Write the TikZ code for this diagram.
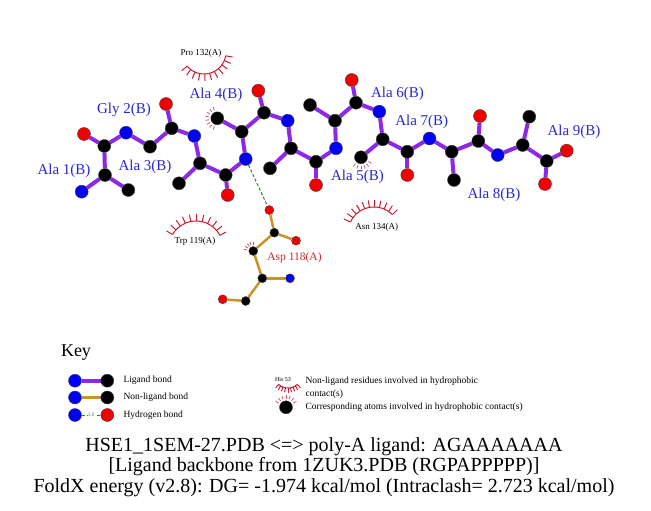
\documentclass[tikz,border=0pt]{standalone}
\usepackage{fontspec}
\setmainfont{Liberation Serif}
\usetikzlibrary{backgrounds,calc}

\definecolor{ligbond}{RGB}{140,40,230}
\definecolor{nonlig}{RGB}{205,145,40}
\definecolor{hbcol}{RGB}{30,140,40}
\definecolor{hydcol}{RGB}{200,30,50}
\definecolor{rescol}{RGB}{40,40,210}
\definecolor{asplab}{RGB}{210,40,40}
\definecolor{ncol}{RGB}{0,0,245}
\definecolor{ocol}{RGB}{240,0,0}

\tikzset{
  atom/.style={circle, inner sep=0pt, minimum size=13pt, draw=black!75, line width=0.4pt},
  catom/.style={atom, fill=black},
  natom/.style={atom, fill=ncol},
  oatom/.style={atom, fill=ocol},
  scatom/.style={catom, minimum size=9pt},
  snatom/.style={natom, minimum size=9pt},
  soatom/.style={oatom, minimum size=9pt},
  lbond/.style={ligbond, line width=4pt},
  nbond/.style={nonlig, line width=2.5pt},
  hbond/.style={hbcol, line width=1pt, dash pattern=on 3pt off 2pt},
  hydline/.style={hydcol, line width=1pt},
  contact/.style={hydcol!75, line width=0.8pt},
  reslab/.style={text=rescol, font=\fontsize{15}{17}\selectfont},
  hyplab/.style={font=\fontsize{9}{10}\selectfont},
  keytext/.style={anchor=west, font=\fontsize{9.5}{12.6}\selectfont, align=left},
}

% hydrophobic residue: centre, radius, first angle, last angle, spokes-1, spoke length
\newcommand{\hphob}[6]{%
  \begin{scope}[shift={(#1)}]
    \draw[hydline] plot[domain=#3:#4, samples=25] (\x:#2);
    \foreach \k in {0,...,#5}{
      \pgfmathsetmacro{\ang}{#3+\k*(#4-#3)/#5}
      \draw[hydline] (\ang:#2) -- (\ang:{#2+#6});
    }
  \end{scope}}

\begin{document}
\begin{tikzpicture}[x=1pt, y=-1pt]
  \useasboundingbox (0,0) rectangle (651,511);

  % ligand atoms
  \node[natom] (n1) at (81.7,191.7) {};
  \node[catom] (ca1) at (105,175) {};
  \node[catom] (cb1) at (128.3,190) {};
  \node[catom] (c1) at (104.3,146) {};
  \node[oatom] (o1) at (84,134) {};
  \node[natom] (n2) at (126,132.7) {};
  \node[catom] (ca2) at (150,146.7) {};
  \node[catom] (c2) at (171.7,128.3) {};
  \node[oatom] (o2) at (166,104) {};
  \node[natom] (n3) at (194.3,136) {};
  \node[catom] (ca3) at (200,163.3) {};
  \node[catom] (cb3) at (179,183.3) {};
  \node[catom] (c3) at (225.7,175) {};
  \node[oatom] (o3) at (227.7,195) {};
  \node[natom] (n4) at (245.7,159) {};
  \node[catom] (ca4) at (241.7,131.7) {};
  \node[catom] (cb4) at (217.3,118.3) {};
  \node[catom] (c4) at (264,112.7) {};
  \node[oatom] (o4) at (258.3,90.7) {};
  \node[natom] (n5) at (287.7,120.7) {};
  \node[catom] (ca5) at (291,148.3) {};
  \node[catom] (cb5) at (270,168.3) {};
  \node[catom] (c5) at (316,161.7) {};
  \node[oatom] (o5) at (316,185) {};
  \node[natom] (n6) at (336,148.3) {};
  \node[catom] (ca6) at (335,120.7) {};
  \node[catom] (cb6) at (310,105) {};
  \node[catom] (c6) at (356,102.7) {};
  \node[oatom] (o6) at (351.7,80) {};
  \node[natom] (n7) at (379.3,111.7) {};
  \node[catom] (ca7) at (382.7,139.3) {};
  \node[catom] (cb7) at (361,157.3) {};
  \node[catom] (c7) at (407.3,151.7) {};
  \node[oatom] (o7) at (407.3,175) {};
  \node[natom] (n8) at (429.5,138.5) {};
  \node[catom] (ca8) at (451.7,151.7) {};
  \node[catom] (cb8) at (454,180) {};
  \node[catom] (c8) at (478.3,141) {};
  \node[oatom] (o8) at (480,116) {};
  \node[natom] (n9) at (497.7,155) {};
  \node[catom] (ca9) at (522.7,145) {};
  \node[catom] (cb9) at (529.3,116.7) {};
  \node[catom] (c9) at (546.7,161) {};
  \node[oatom] (o9) at (566.7,150.7) {};
  \node[oatom] (oxt) at (545,184) {};

  % Asp 118
  \node[soatom] (aod1) at (269.3,210) {};
  \node[scatom] (acg) at (274.3,232.7) {};
  \node[soatom] (aod2) at (296,240.7) {};
  \node[scatom] (acb) at (253.3,251) {};
  \node[scatom] (aca) at (262.3,278.3) {};
  \node[snatom] (an) at (290,278.3) {};
  \node[scatom] (ac) at (245.7,301) {};
  \node[soatom] (ao) at (222.7,299.3) {};

  \begin{pgfonlayer}{background}
    \foreach \a/\b in {n1/ca1, ca1/cb1, ca1/c1, c1/o1, c1/n2, n2/ca2, ca2/c2, c2/o2, c2/n3,
                       n3/ca3, ca3/cb3, ca3/c3, c3/o3, c3/n4, n4/ca4, ca4/cb4, ca4/c4, c4/o4, c4/n5,
                       n5/ca5, ca5/cb5, ca5/c5, c5/o5, c5/n6, n6/ca6, ca6/cb6, ca6/c6, c6/o6, c6/n7,
                       n7/ca7, ca7/cb7, ca7/c7, c7/o7, c7/n8, n8/ca8, ca8/cb8, ca8/c8, c8/o8, c8/n9,
                       n9/ca9, ca9/cb9, ca9/c9, c9/o9, c9/oxt}
      \draw[lbond] (\a) -- (\b);
    \foreach \a/\b in {aod1/acg, acg/aod2, acg/acb, acb/aca, aca/an, aca/ac, ac/ao}
      \draw[nbond] (\a) -- (\b);
  \end{pgfonlayer}

  % hydrogen bond
  \draw[hbond] (n4) -- (aod1);

  % hydrophobic contacts
  \hphob{204,52}{22}{10}{140}{10}{7}
  \hphob{196,248}{27}{-150}{-28}{10}{7}
  \hphob{374,233}{26}{-155}{-45}{10}{7}
  \foreach \a in {110,130,...,250}
    \draw[contact] ($(cb4)+(\a:8.5)$) -- ($(cb4)+(\a:12)$);
  \foreach \a in {30,50,...,130}
    \draw[contact] ($(cb7)+(\a:8.5)$) -- ($(cb7)+(\a:12)$);
  \foreach \a in {-170,-150,...,-90}
    \draw[contact] ($(acb)+(\a:6)$) -- ($(acb)+(\a:9.5)$);

  % residue labels
  \node[reslab] (l1) at (64,171) {Ala 1(B)};
  \node[reslab] (l2) at (124,110) {Gly 2(B)};
  \node[reslab] (l3) at (145,167) {Ala 3(B)};
  \node[reslab] (l4) at (216,95) {Ala 4(B)};
  \node[reslab] (l5) at (357.5,177) {Ala 5(B)};
  \node[reslab] (l6) at (397.5,94) {Ala 6(B)};
  \node[reslab] (l7) at (421.7,122) {Ala 7(B)};
  \node[reslab] (l8) at (494,195) {Ala 8(B)};
  \node[reslab] (l9) at (574,132) {Ala 9(B)};
  \node[text=asplab, font=\fontsize{11.5}{13}\selectfont] (lasp) at (294.5,258) {Asp 118(A)};
  \node[hyplab] (lpro) at (201,53) {Pro 132(A)};
  \node[hyplab] (ltrp) at (195,241.7) {Trp 119(A)};
  \node[hyplab] (lasn) at (376.7,227.3) {Asn 134(A)};

  % key
  \node[font=\fontsize{18}{20}\selectfont] (key) at (76,352.7) {Key};
  \node[natom] (kn1) at (75,380.7) {};
  \node[catom] (kc1) at (107.3,380.7) {};
  \node[natom] (kn2) at (75,397.5) {};
  \node[catom] (kc2) at (107.3,397.5) {};
  \node[natom] (kn3) at (75,415) {};
  \node[oatom] (ko3) at (107.3,415) {};
  \begin{pgfonlayer}{background}
    \draw[lbond] (kn1) -- (kc1);
    \draw[nbond] (kn2) -- (kc2);
  \end{pgfonlayer}
  \draw[hbond] (kn3) -- node[fill=white, inner sep=0.5pt, text=hbcol, font=\fontsize{5}{5}\selectfont] {3.0} (ko3);
  \node[keytext] (t1) at (120,380.7) {Ligand bond};
  \node[keytext] (t2) at (120,397.5) {Non-ligand bond};
  \node[keytext] (t3) at (120,415) {Hydrogen bond};

  \node[font=\fontsize{6}{6}\selectfont] (khis) at (283,379.5) {His 53};
  \hphob{288,374}{14}{48}{132}{8}{4.5}
  \node[catom] (kca) at (286,407.3) {};
  \foreach \a in {-150,-130,...,-30}
    \draw[contact] ($(kca)+(\a:8.5)$) -- ($(kca)+(\a:12)$);
  \node[keytext] (t4) at (302,388) {Non-ligand residues involved in hydrophobic\\contact(s)};
  \node[keytext] (t5) at (302,407.3) {Corresponding atoms involved in hydrophobic contact(s)};

  % title
  \node[font=\fontsize{20}{20.5}\selectfont, align=center] (title) at (324,467)
    {HSE1\_1SEM-27.PDB <=> poly-A ligand: AGAAAAAAA\\
     {[}Ligand backbone from 1ZUK3.PDB (RGPAPPPPP){]}\\
     FoldX energy (v2.8): DG= -1.974 kcal/mol (Intraclash= 2.723 kcal/mol)};
\end{tikzpicture}
\end{document}
